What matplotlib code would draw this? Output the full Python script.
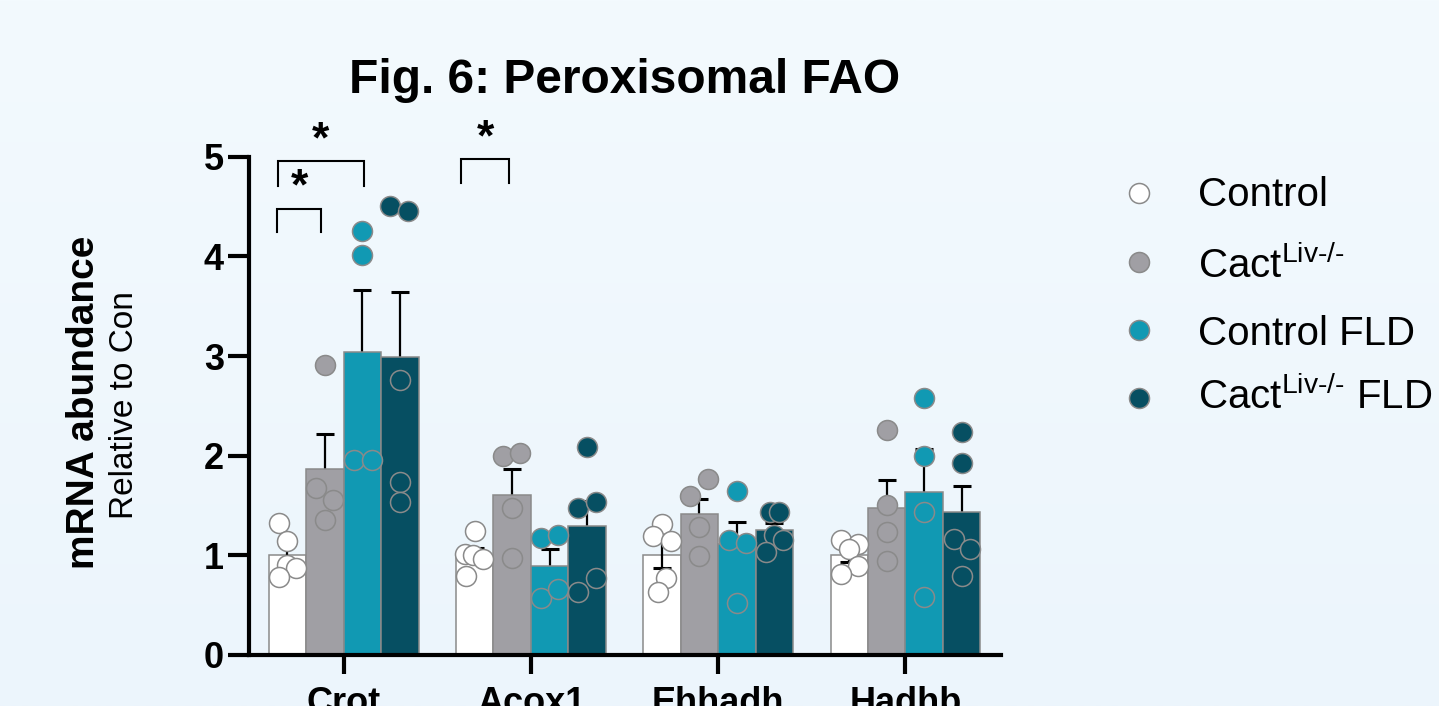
import numpy as np
import matplotlib
matplotlib.use('Agg')
import matplotlib.pyplot as plt
from matplotlib.colors import LinearSegmentedColormap
from matplotlib.lines import Line2D

plt.rcParams['font.family'] = ['Liberation Sans', 'DejaVu Sans']
plt.rcParams['mathtext.fontset'] = 'custom'
plt.rcParams['mathtext.rm'] = 'Liberation Sans'
plt.rcParams['mathtext.it'] = 'Liberation Sans:italic'
plt.rcParams['mathtext.bf'] = 'Liberation Sans:bold'

# genes and groups
genes = ['Crot', 'Acox1', 'Ehhadh', 'Hadhb']
group_names = ['Control', r'Cact$^{\text{Liv-/-}}$', 'Control FLD', r'Cact$^{\text{Liv-/-}}$ FLD']
group_colors = ['#FFFFFF', '#A09FA4', '#1199B3', '#064F62']

# bar means (relative to control) and SEM
ctrl_mean = [1.00, 1.00, 1.00, 1.00]
cact_mean = [1.87, 1.61, 1.41, 1.48]
fld_mean = [3.04, 0.89, 1.11, 1.64]
cact_fld_mean = [2.99, 1.29, 1.25, 1.43]

ctrl_sem = [0.10, 0.07, 0.13, 0.07]
cact_sem = [0.35, 0.26, 0.16, 0.28]
fld_sem = [0.62, 0.17, 0.22, 0.43]
cact_fld_sem = [0.65, 0.26, 0.07, 0.27]

# individual animals
ctrl_pts = [[1.32, 1.14, 0.90, 0.87, 0.78],
            [1.24, 1.01, 1.00, 0.96, 0.79],
            [1.31, 1.19, 1.14, 0.77, 0.63],
            [1.15, 1.11, 1.06, 0.89, 0.81]]
cact_pts = [[2.91, 1.68, 1.56, 1.35],
            [2.00, 2.03, 1.48, 0.97],
            [1.77, 1.60, 1.28, 0.99],
            [2.26, 1.51, 1.23, 0.94]]
fld_pts = [[4.25, 4.01, 1.96, 1.96],
           [1.17, 1.20, 0.57, 0.66],
           [1.65, 1.15, 1.12, 0.52],
           [2.58, 2.00, 1.43, 0.58]]
cact_fld_pts = [[4.51, 4.46, 2.76, 1.74, 1.54],
                [2.09, 1.48, 1.54, 0.63, 0.77],
                [1.43, 1.43, 1.20, 1.15, 1.03],
                [2.24, 1.93, 1.16, 1.06, 0.79]]

# horizontal spread of the dots inside each bar (fraction of bar width)
ctrl_dx = [[-0.23, 0, 0, 0.24, -0.23], [0, -0.26, -0.04, 0.21, -0.23],
           [0, -0.23, 0.25, 0.12, -0.11], [-0.23, 0.23, 0, 0.23, -0.23]]
cact_dx = [[0, -0.23, 0.23, 0], [-0.24, 0.21, 0, 0], [0.23, -0.24, 0, 0], [0, 0, 0, 0]]
fld_dx = [[0, 0, -0.23, 0.25], [-0.23, 0.23, -0.23, 0.23], [0, -0.22, 0.23, 0], [0, 0, 0, 0]]
cact_fld_dx = [[-0.25, 0.21, 0, 0, 0], [0, -0.25, 0.23, -0.25, 0.23],
               [-0.12, 0.12, 0, 0.23, -0.22], [0, 0, -0.21, 0.23, 0]]

means = [ctrl_mean, cact_mean, fld_mean, cact_fld_mean]
sems = [ctrl_sem, cact_sem, fld_sem, cact_fld_sem]
pts = [ctrl_pts, cact_pts, fld_pts, cact_fld_pts]
dxs = [ctrl_dx, cact_dx, fld_dx, cact_fld_dx]

W, H = 1439, 706
fig = plt.figure(figsize=(W / 100, H / 100), dpi=100)

# light blue background
bg = fig.add_axes([0, 0, 1, 1], zorder=-1)
bg.imshow(np.linspace(0, 1, 256).reshape(-1, 1),
          cmap=LinearSegmentedColormap.from_list('bg', ['#F3FAFE', '#ECF5FC']),
          aspect='auto', extent=[0, 1, 0, 1], origin='upper')
bg.axis('off')

ax = fig.add_axes([249 / W, 1 - 655 / H, (1001 - 249) / W, (655 - 156.7) / H])
ax.set_facecolor('none')

bw = 0.2
xg = np.arange(len(genes))
edge = '#8A8A8A'
for i in range(4):
    xb = xg + (i - 1.5) * bw
    ax.bar(xb, means[i], bw, color=group_colors[i], edgecolor=edge, linewidth=1.1, zorder=2)
    ax.errorbar(xb, means[i], yerr=sems[i], fmt='none', ecolor='black', elinewidth=1.6,
                capsize=6.5, capthick=2.2, zorder=3 if i == 0 else 1)
    for g in range(len(genes)):
        ax.scatter(xb[g] + np.array(dxs[i][g]) * bw, pts[i][g], s=207, color=group_colors[i],
                   edgecolors=edge, linewidths=1.1, zorder=4, clip_on=False)

# significance brackets
brackets = [(-0.356, -0.119, 4.24, 4.48, 4.69),
            (-0.349, 0.107, 4.71, 4.955, 5.16),
            (0.629, 0.881, 4.74, 4.98, 5.18)]
for x0, x1, yb, yt, ys in brackets:
    ax.plot([x0, x0, x1, x1], [yb, yt, yt, yb], color='black', lw=1.5, clip_on=False,
            solid_joinstyle='miter', zorder=5)
    ax.text((x0 + x1) / 2, ys, '*', ha='center', va='center', fontsize=32,
            fontweight='bold', clip_on=False)

ax.set_xlim(-0.505, 3.51)
ax.set_ylim(0, 5)
ax.set_xticks(xg)
ax.set_xticklabels(genes)
ax.set_yticks(range(6))
ax.spines['top'].set_visible(False)
ax.spines['right'].set_visible(False)
ax.spines['left'].set_linewidth(3)
ax.spines['bottom'].set_linewidth(3)
ax.tick_params(axis='y', length=15, width=3, labelsize=26, pad=3)
ax.tick_params(axis='x', length=14, width=3, labelsize=26, pad=8)
for lab in ax.get_xticklabels() + ax.get_yticklabels():
    lab.set_fontweight('bold')

fig.text(0.4343, 1 - 93.3 / H, 'Fig. 6: Peroxisomal FAO', ha='center', va='baseline',
         fontsize=34.5, fontweight='bold')
fig.text(94 / W, 1 - 402.5 / H, 'mRNA abundance', rotation=90, rotation_mode='anchor',
         ha='center', va='baseline', fontsize=28, fontweight='bold')
fig.text(133.3 / W, 1 - 405 / H, 'Relative to Con', rotation=90, rotation_mode='anchor',
         ha='center', va='baseline', fontsize=24)

# legend
mark_y = [192.7, 261.7, 330, 398.3]
text_y = [206, 278.3, 345, 409.3]
for i in range(4):
    fig.add_artist(Line2D([1139.3 / W], [1 - mark_y[i] / H], marker='o', ms=14.4, ls='none',
                          mfc=group_colors[i], mec=edge, mew=1.1, transform=fig.transFigure))
    fig.text(1197.7 / W, 1 - text_y[i] / H, group_names[i], fontsize=29, va='baseline')

fig.savefig('out.png', dpi=100)
